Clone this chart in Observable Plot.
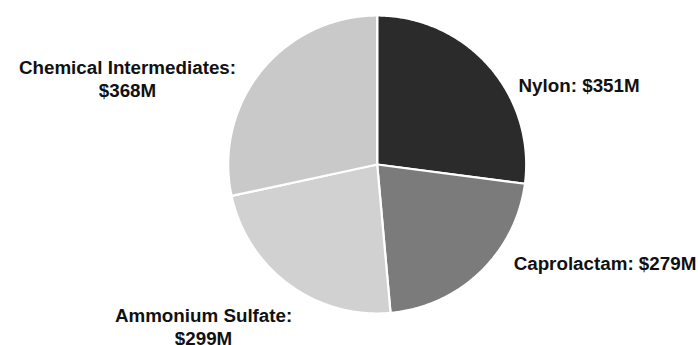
<!DOCTYPE html>
<html>
<head>
<meta charset="utf-8">
<script src="https://cdn.jsdelivr.net/npm/d3@7"></script>
<script src="https://cdn.jsdelivr.net/npm/@observablehq/plot@0.6"></script>
<style>
  html, body { margin: 0; padding: 0; background: #ffffff; }
  #chart svg { display: block; }
</style>
</head>
<body>
<div id="chart"></div>
<script>
// Revenue by product line, $ millions
const segments = ["Nylon", "Caprolactam", "Ammonium Sulfate", "Chemical Intermediates"];
const revenue = [351, 279, 299, 368];
const shades = ["#2b2b2b", "#7b7b7b", "#d1d1d1", "#c9c9c9"];

// Label placement relative to each slice's outer edge at its mid angle (pixels)
const labelPlacement = [
  {anchor: "start", dx: 29.4, dy: 18.4},
  {anchor: "start", dx: 33.2, dy: -9.6},
  {anchor: "middle", dx: -85.3, dy: 41.5},
  {anchor: "middle", dx: -133.8, dy: 7.4}
];

const W = 698, H = 345;
const cx = 376.7, cy = 164, R = 149; // pie centre and radius in pixels

const rows = segments.map((name, i) => ({name, value: revenue[i]}));
const arcs = d3.pie().sort(null).value(d => d.value)(rows);

// Each slice as a closed outline in unit-radius coordinates (y up, 0 rad at top, clockwise)
const outline = arcs.flatMap(a => {
  const pts = [{name: a.data.name, x: 0, y: 0}];
  const n = Math.max(2, Math.ceil((a.endAngle - a.startAngle) / (Math.PI / 360)));
  for (let k = 0; k <= n; ++k) {
    const t = a.startAngle + (a.endAngle - a.startAngle) * k / n;
    pts.push({name: a.data.name, x: Math.sin(t), y: Math.cos(t)});
  }
  return pts;
});

const labels = arcs.map((a, i) => {
  const mid = (a.startAngle + a.endAngle) / 2;
  const x = Math.sin(mid), y = Math.cos(mid);
  const money = `$${a.data.value}M`;
  const text = x < 0 ? `${a.data.name}:\n${money}` : `${a.data.name}: ${money}`;
  return {x, y, text, ...labelPlacement[i]};
});

const chart = Plot.plot({
  width: W,
  height: H,
  margin: 0,
  style: {background: "#ffffff", fontFamily: "'Liberation Sans', Arial, sans-serif"},
  x: {domain: [-cx / R, (W - cx) / R], axis: null},
  y: {domain: [(cy - H) / R, cy / R], axis: null},
  color: {domain: segments, range: shades},
  marks: [
    Plot.line(outline, {
      x: "x", y: "y", z: "name", fill: "name",
      stroke: "#ffffff", strokeWidth: 2.2, strokeLinejoin: "round",
      curve: "linear-closed"
    }),
    ...labels.map(l => Plot.text([l], {
      x: "x", y: "y", text: "text",
      textAnchor: l.anchor, dx: l.dx, dy: l.dy,
      lineAnchor: "middle", lineHeight: 1.22,
      fontSize: 18.8, fontWeight: "bold", fill: "#111111"
    }))
  ]
});

document.getElementById("chart").append(chart);
</script>
</body>
</html>
